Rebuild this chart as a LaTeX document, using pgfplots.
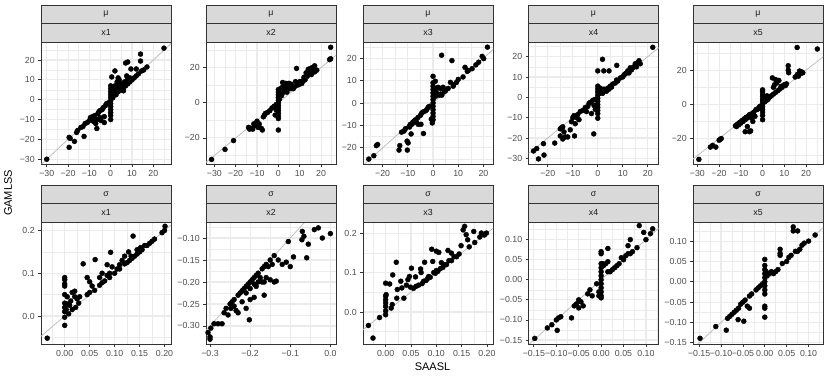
\documentclass[border=0pt]{standalone}
\usepackage{fontspec}
\setmainfont{Liberation Sans}
\usepackage{pgfplots}
\pgfplotsset{compat=1.18}

\definecolor{gridc}{HTML}{EBEBEB}
\definecolor{gray20}{HTML}{333333}
\definecolor{gray30}{HTML}{4D4D4D}
\definecolor{gray85}{HTML}{D9D9D9}
\definecolor{gray10}{HTML}{1A1A1A}
\definecolor{abl}{HTML}{BEBEBE}

\pgfplotsset{
  facet/.style={
    scale only axis, width=130pt, height=122pt,
    anchor=south west,
    axis line style={draw=gray20, line width=0.9pt},
    tick align=outside, tick pos=left,
    major tick length=2.75pt, minor tick length=0pt,
    tick style={gray20, line width=0.8pt},
    grid=both,
    major grid style={gridc, line width=1.1pt},
    minor grid style={gridc, line width=0.55pt},
    ticklabel style={font=\fontsize{8.8}{10}\selectfont, text=gray30},
    scaled ticks=false,
  },
  pts/.style={only marks, mark=*, mark size=2.5pt, mark options={draw=black, fill=black}},
  idl/.style={abl, line width=0.8pt, no marks},
}

\begin{document}
\begin{tikzpicture}
\path[use as bounding box] (0,0) rectangle (830pt,378pt);

% ---------- top row: mu ----------
\begin{axis}[facet, at={(41pt,214pt)},
  xmin=-32.7, xmax=28.3, ymin=-32.4, ymax=29.1,
  xtick={-30,-20,-10,0,10,20}, xticklabels={−30,−20,−10,0,10,20},
  ytick={-30,-20,-10,0,10,20}, yticklabels={−30,−20,−10,0,10,20},
  minor xtick={-25,-15,-5,5,15,25}, minor ytick={-25,-15,-5,5,15,25}]
\addplot[idl] coordinates {(-40,-40) (40,40)};
\addplot[pts] table {
x y
-30 -30
-19.5 -19
-19 -19.5
-19.5 -24
-17 -21
-16 -16.5
-15.5 -15.5
-14 -14
-13 -13.5
-12.5 -18.5
-12 -12
-11 -11.5
-10 -10.5
-9.5 -9
-9 -10
-8.5 -8.5
-8 -11
-8 -9.5
-7.5 -8
-7 -10
-7 -12
-6.5 -14.5
-6 -7
-6 -10
-5.5 -6
-5 -9
-5 -5.5
-4.5 -10.5
-4 -5
-3.5 -4
-3 -11.5
-3 -8.5
-2.5 -3
-2 -2
-1 -1.5
0 -10
0 -8
0 -6.5
0 -5
0 -3.5
0 -2
0 -0.5
0 1
0 2.5
0 4
0 5.5
0 7
0.5 11.5
0.5 3
1 6
1 1
1.5 3
2 14.5
2 5
2 7
2.5 2.5
3 6
3 9
3.5 11
3.5 4
4 10
4 7.5
4.5 5
5 5
5 8
5.5 7
6 6
6 4.5
6.5 9
7 7
7 18.5
8 19
7.5 12
8 8
8 10.5
9 9
9 11
9.5 15.5
10 10
11 11
12 15.5
12 12
13 13
14 23
14 19.5
14.5 14.5
15.5 15
17 16.5
25 26
};
\end{axis}

\begin{axis}[facet, at={(206pt,214pt)},
  xmin=-33.9, xmax=27.0, ymin=-34.8, ymax=34.5,
  xtick={-30,-20,-10,0,10,20}, xticklabels={−30,−20,−10,0,10,20},
  ytick={-20,0,20}, yticklabels={−20,0,20},
  minor xtick={-25,-15,-5,5,15,25}, minor ytick={-30,-10,10,30}]
\addplot[idl] coordinates {(-40,-40) (40,40)};
\addplot[pts] table {
x y
-31.3 -32.2
-25 -26.5
-21 -21.5
-14 -14
-13.5 -15
-13 -14.5
-12 -15
-11.5 -12
-11 -13
-10 -10.5
-9.5 -14
-9 -12
-8 -14.5
-7.5 -15.5
-7 -8
-6.5 -7
-6 -6
-5 -5.5
-4 -4.5
-3 -3
-2 -2
-1.5 -7
-1 -4
-1 -1
0 -15.5
0 -9
0 -7.5
0 -6
0 -4.5
0 -3
0 -1.5
0 0
0 1.5
0 3
0 4.5
0 6
0 7.5
0.5 2
1 5
1 8
1.5 4
2 11.5
2 9
2.5 6
3 10
3 7.5
3.5 11
4 6
4.5 9
5 10
5 11
5.5 8
6 9
6 10.5
7 8
7.5 9
8.5 19.5
8 12
9 10
10 10.5
10 12
11 11
11.5 12.5
12 14.5
12.5 13
13 17
13.5 15
14 19
14 16
15 19.5
15 17
15.5 16
16 20
16 18
17 21
17 17.5
18 18.5
24 24.5
24.5 25
24.5 31.5
};
\end{axis}

\begin{axis}[facet, at={(363pt,214pt)},
  xmin=-27.8, xmax=23.8, ymin=-27.2, ymax=27.2,
  xtick={-20,-10,0,10,20}, xticklabels={−20,−10,0,10,20},
  ytick={-20,-10,0,10,20}, yticklabels={−20,−10,0,10,20},
  minor xtick={-25,-15,-5,5,15}, minor ytick={-25,-15,-5,5,15,25}]
\addplot[idl] coordinates {(-40,-40) (40,40)};
\addplot[pts] table {
x y
-25.5 -25
-23.5 -23.5
-22.5 -19
-22 -18.5
-13.5 -21
-13.2 -19
-12.5 -13
-11.5 -12.5
-11 -11.5
-10.2 -21
-10.3 -17
-9.9 -17.8
-9.5 -10.5
-9.3 -10.7
-9 -9.5
-8.7 -13.8
-8.3 -9.4
-8 -8.5
-7.5 -8
-7 -7.5
-6.5 -8.6
-6 -6.5
-5.9 -9.5
-5 -5.5
-4.8 -9.5
-4.5 -4.5
-4 -4
-3.8 -13.6
-3 -3.5
-2.5 -3
-2 -2
-1.5 -1.5
-0.7 -7.2
-0.3 -8.9
0 -7.5
0 -6
0 -4.5
0 -3
0 -1.5
0 0
0 1.5
0 3
0 4.5
0 6
0 7.5
0 9
0 11.9
0.5 6.5
0.9 9.7
1 5
1 3
1.5 6.5
2 4
2 7
2.5 3.5
3 4
3 6.5
3.4 21.3
3.5 3.5
4 7
4.5 5
5 5.5
6 6.5
6.9 9.2
7.5 18.9
8 7.5
8.2 8.2
9.3 9.2
10 10.5
11.9 11.6
12.7 15.9
13.6 14.1
14 14.5
15.5 15.3
17 17
18.1 18.2
19.5 20.8
20.1 19.8
21.6 24.9
};
\end{axis}

\begin{axis}[facet, at={(528.5pt,214pt)},
  xmin=-27.7, xmax=24.3, ymin=-32.8, ymax=27.2,
  xtick={-20,-10,0,10,20}, xticklabels={−20,−10,0,10,20},
  ytick={-30,-20,-10,0,10,20}, yticklabels={−30,−20,−10,0,10,20},
  minor xtick={-25,-15,-5,5,15}, minor ytick={-25,-15,-5,5,15,25}]
\addplot[idl] coordinates {(-40,-40) (40,40)};
\addplot[pts] table {
x y
-25.7 -26.4
-24.4 -25.2
-23.7 -30.3
-21.5 -28.4
-21.7 -22.8
-17.2 -22.5
-15 -15.5
-14.5 -15
-14 -14.5
-15 -19
-14 -20.5
-13 -19.5
-12 -19.5
-13.5 -17
-11 -16
-10.5 -12
-10 -10
-9.5 -9
-9.3 -19
-9 -13
-8.5 -10
-8 -8.5
-7.5 -11
-7 -7
-6 -6.5
-5 -5
-4.5 -7
-4 -4.5
-3.5 -3
-3 -2.5
-2.5 -8
-2 -1.5
-1.6 -18
-1.5 -4
-1 -6
-1 -1
0 -10.3
0 -8
0 -6.5
0 -5
0 -3.5
0 -2
0 -0.5
0 1
0 2.5
0 4
0 5.5
0 13
1.9 18.7
2.4 13
4.5 13
7.6 15.7
0.5 3
1 2
1 4.5
1.5 3
2 2
2.5 4
3 3.5
3.5 3
4 4.5
4.5 4
5 5.5
5.5 5
6 6.5
7 7
7.5 8.5
8 8
9 9.5
10 10
10.5 11
11 11.5
11.5 12
12 13
12.5 12
13 14.5
13.5 13.5
14 14.5
14.5 15
15 16.5
15.5 15
16 17
16.5 18
17 16.5
22 24.6
};
\end{axis}

\begin{axis}[facet, at={(693pt,214pt)},
  xmin=-32, xmax=27.8, ymin=-34.9, ymax=36.5,
  xtick={-30,-20,-10,0,10,20}, xticklabels={−30,−20,−10,0,10,20},
  ytick={-20,0,20}, yticklabels={−20,0,20},
  minor xtick={-25,-15,-5,5,15,25}, minor ytick={-30,-10,10,30}]
\addplot[idl] coordinates {(-40,-40) (40,40)};
\addplot[pts] table {
x y
-29.3 -32.2
-24 -25
-23 -24
-21.5 -25
-20 -21
-19.5 -20.5
-19 -20
-12.5 -12.5
-12 -13
-11.5 -11.5
-11 -12
-10.5 -10.5
-10 -11
-9.5 -9.5
-9 -10
-8 -16
-8.5 -8.5
-8 -9
-7.5 -7.5
-7 -13
-7 -8
-6.5 -7
-6 -16
-6 -6
-5.5 -15.5
-5 -5.5
-5 -8
-4.5 -10
-4 -4.5
-3.5 -7
-3 -3
-2.5 -3
-2 -2.5
-1.5 -1.5
-1 -1
0 -9
0 -6.5
0 -4.5
0 -3
0 -1.5
0 0
0 1.5
0 3
0 4.5
0 6
0 7.5
0 8.5
0.5 2
1 1.5
1 4
1.5 2.5
2 2.5
2 5
2.5 3
3 4
3.5 4.5
4 5
4.5 15.5
5 6
5 10
5.5 11.5
6 7
6 14.5
6.5 12.5
7 8
7.5 14
8 9
8.5 10.5
9 10
9.5 11
10 11.5
10.5 11
11 12
11.8 22.6
12 18.5
11.8 20
15 16
16 17.5
16.5 16.5
17 19.5
17.5 18
18 19
18.5 18.5
15.9 33.3
25.2 32.4
};
\end{axis}

% ---------- bottom row: sigma ----------
\begin{axis}[facet, at={(41pt,34pt)},
  xmin=-0.0475, xmax=0.213, ymin=-0.0656, ymax=0.220,
  xtick={0,0.05,0.1,0.15,0.2}, xticklabels={0.00,0.05,0.10,0.15,0.20},
  ytick={0,0.1,0.2}, yticklabels={0.0,0.1,0.2},
  minor xtick={-0.025,0.025,0.075,0.125,0.175}, minor ytick={-0.05,0.05,0.15}]
\addplot[idl] coordinates {(-1,-1) (1,1)};
\addplot[pts] table {
x y
-0.035 -0.052
0 -0.022
0 -0.003
0 0.01
0 0.02
0 0.03
0 0.05
0 0.07
0 0.075
0 0.085
0 0.09
0.003 0.015
0.005 0.045
0.005 0.028
0.008 0.005
0.01 0.025
0.012 0.035
0.015 0.055
0.015 0.015
0.02 0.058
0.02 0.045
0.022 0.02
0.025 0.04
0.028 0.03
0.03 0.045
0.037 0.122
0.045 0.05
0.045 0.09
0.05 0.08
0.05 0.055
0.055 0.07
0.06 0.06
0.061 0.132
0.07 0.09
0.07 0.072
0.075 0.1
0.075 0.078
0.08 0.082
0.085 0.12
0.085 0.095
0.09 0.1
0.092 0.149
0.09 0.09
0.095 0.115
0.1 0.1
0.105 0.11
0.11 0.12
0.11 0.11
0.115 0.13
0.12 0.122
0.12 0.14
0.125 0.125
0.128 0.15
0.13 0.13
0.133 0.14
0.135 0.135
0.14 0.14
0.137 0.187
0.145 0.155
0.145 0.145
0.15 0.15
0.152 0.16
0.155 0.155
0.16 0.165
0.165 0.165
0.17 0.17
0.175 0.175
0.18 0.18
0.195 0.195
0.2 0.2
0.201 0.21
};
\end{axis}

\begin{axis}[facet, at={(206pt,34pt)},
  xmin=-0.310, xmax=0.014, ymin=-0.341, ymax=-0.0636,
  xtick={-0.3,-0.2,-0.1,0}, xticklabels={−0.3,−0.2,−0.1,0.0},
  ytick={-0.3,-0.25,-0.2,-0.15,-0.1}, yticklabels={−0.30,−0.25,−0.20,−0.15,−0.10},
  minor xtick={-0.25,-0.15,-0.05}, minor ytick={-0.325,-0.275,-0.225,-0.175,-0.125,-0.075}]
\addplot[idl] coordinates {(-1,-1) (1,1)};
\addplot[pts] table {
x y
-0.305 -0.315
-0.3 -0.325
-0.3 -0.33
-0.298 -0.305
-0.29 -0.295
-0.28 -0.295
-0.27 -0.295
-0.265 -0.27
-0.26 -0.26
-0.255 -0.275
-0.25 -0.25
-0.248 -0.26
-0.245 -0.245
-0.24 -0.255
-0.235 -0.265
-0.24 -0.24
-0.23 -0.27
-0.23 -0.23
-0.225 -0.225
-0.22 -0.22
-0.215 -0.215
-0.22 -0.245
-0.21 -0.225
-0.21 -0.21
-0.205 -0.205
-0.2 -0.2
-0.202 -0.286
-0.21 -0.26
-0.2 -0.24
-0.2 -0.215
-0.195 -0.195
-0.19 -0.19
-0.19 -0.235
-0.19 -0.205
-0.185 -0.21
-0.185 -0.185
-0.18 -0.18
-0.18 -0.2
-0.165 -0.23
-0.175 -0.19
-0.17 -0.17
-0.17 -0.2
-0.165 -0.2
-0.165 -0.165
-0.16 -0.16
-0.16 -0.19
-0.155 -0.165
-0.15 -0.15
-0.15 -0.195
-0.145 -0.16
-0.14 -0.14
-0.14 -0.2
-0.135 -0.198
-0.13 -0.15
-0.12 -0.16
-0.11 -0.155
-0.105 -0.108
-0.1 -0.165
-0.092 -0.143
-0.07 -0.085
-0.071 -0.104
-0.066 -0.096
-0.059 -0.145
-0.055 -0.114
-0.04 -0.081
-0.03 -0.077
-0.02 -0.1
0 -0.09
};
\end{axis}

\begin{axis}[facet, at={(363pt,34pt)},
  xmin=-0.0447, xmax=0.212, ymin=-0.081, ymax=0.228,
  xtick={0,0.05,0.1,0.15,0.2}, xticklabels={0.00,0.05,0.10,0.15,0.20},
  ytick={0,0.1,0.2}, yticklabels={0.0,0.1,0.2},
  minor xtick={-0.025,0.025,0.075,0.125,0.175}, minor ytick={-0.05,0.05,0.15}]
\addplot[idl] coordinates {(-1,-1) (1,1)};
\addplot[pts] table {
x y
-0.034 -0.034
-0.025 -0.066
-0.012 -0.014
0 -0.007
0 0.003
0 0.014
0 0.023
0 0.031
0 0.04
0.001 0.044
0 0.073
0.008 0.071
0.014 0.094
0.021 0.126
0.013 0.019
0.011 0.01
0.023 0.057
0.022 0.035
0.03 0.078
0.032 0.061
0.036 0.035
0.041 0.068
0.044 0.082
0.047 0.09
0.051 0.111
0.049 0.063
0.055 0.06
0.06 0.065
0.059 0.089
0.065 0.068
0.07 0.1
0.069 0.109
0.072 0.072
0.075 0.078
0.077 0.126
0.08 0.08
0.083 0.085
0.085 0.09
0.088 0.088
0.091 0.159
0.093 0.128
0.095 0.1
0.098 0.098
0.1 0.154
0.1 0.105
0.103 0.103
0.105 0.151
0.108 0.11
0.11 0.125
0.113 0.113
0.115 0.12
0.12 0.12
0.123 0.156
0.125 0.13
0.13 0.149
0.13 0.13
0.135 0.14
0.14 0.14
0.145 0.147
0.149 0.168
0.153 0.208
0.156 0.217
0.159 0.196
0.162 0.183
0.165 0.165
0.174 0.204
0.176 0.176
0.186 0.19
0.189 0.2
0.195 0.195
0.199 0.2
};
\end{axis}

\begin{axis}[facet, at={(528.5pt,34pt)},
  xmin=-0.162, xmax=0.128, ymin=-0.160, ymax=0.144,
  xtick={-0.15,-0.1,-0.05,0,0.05,0.1}, xticklabels={−0.15,−0.10,−0.05,0.00,0.05,0.10},
  ytick={-0.15,-0.1,-0.05,0,0.05,0.1}, yticklabels={−0.15,−0.10,−0.05,0.00,0.05,0.10},
  minor xtick={-0.125,-0.075,-0.025,0.025,0.075,0.125}, minor ytick={-0.125,-0.075,-0.025,0.025,0.075,0.125}]
\addplot[idl] coordinates {(-1,-1) (1,1)};
\addplot[pts] table {
x y
-0.148 -0.146
-0.12 -0.12
-0.11 -0.112
-0.1 -0.1
-0.095 -0.095
-0.098 -0.126
-0.09 -0.092
-0.066 -0.095
-0.06 -0.065
-0.055 -0.06
-0.05 -0.05
-0.05 -0.07
-0.045 -0.055
-0.04 -0.065
-0.03 -0.035
-0.025 -0.025
-0.02 -0.04
-0.01 -0.01
-0.005 -0.04
-0.005 -0.03
0 -0.045
0 -0.04
0 -0.03
0 -0.02
0 -0.01
0 0
0 0.01
0 0.02
0 0.03
0 0.04
0 0.065
0 0.07
0.003 0.04
0.005 0.035
0.01 0.04
0.015 0.078
0.015 0.045
0.015 0.02
0.02 0.02
0.025 0.025
0.03 0.03
0.035 0.035
0.04 0.04
0.045 0.055
0.05 0.05
0.055 0.06
0.06 0.085
0.06 0.065
0.065 0.1
0.065 0.065
0.07 0.07
0.08 0.08
0.085 0.135
0.095 0.118
0.1 0.1
0.11 0.115
0.115 0.127
};
\end{axis}

\begin{axis}[facet, at={(693pt,34pt)},
  xmin=-0.164, xmax=0.133, ymin=-0.153, ymax=0.147,
  xtick={-0.15,-0.1,-0.05,0,0.05,0.1}, xticklabels={−0.15,−0.10,−0.05,0.00,0.05,0.10},
  ytick={-0.15,-0.1,-0.05,0,0.05,0.1}, yticklabels={−0.15,−0.10,−0.05,0.00,0.05,0.10},
  minor xtick={-0.125,-0.075,-0.025,0.025,0.075,0.125}, minor ytick={-0.125,-0.075,-0.025,0.025,0.075,0.125}]
\addplot[idl] coordinates {(-1,-1) (1,1)};
\addplot[pts] table {
x y
-0.148 -0.139
-0.112 -0.11
-0.088 -0.119
-0.085 -0.09
-0.08 -0.085
-0.075 -0.08
-0.07 -0.075
-0.065 -0.07
-0.06 -0.065
-0.061 -0.093
-0.048 -0.097
-0.055 -0.055
-0.05 -0.05
-0.045 -0.045
-0.04 -0.06
-0.035 -0.065
-0.035 -0.035
-0.03 -0.03
-0.02 -0.02
-0.015 -0.015
-0.01 -0.01
-0.005 -0.005
0 -0.087
0 -0.065
0 -0.06
0 -0.03
0 -0.02
0 -0.01
0 0
0 0.01
0 0.02
0 0.03
0 0.04
0 0.055
0.003 0.025
0.005 0.015
0.01 0.02
0.015 0.025
0.02 0.02
0.025 0.025
0.03 0.03
0.035 0.08
0.035 0.07
0.035 0.065
0.04 0.045
0.05 0.05
0.055 0.06
0.06 0.065
0.065 0.135
0.065 0.125
0.07 0.075
0.075 0.125
0.075 0.075
0.08 0.08
0.085 0.09
0.09 0.095
0.1 0.1
0.115 0.115
};
\end{axis}

% ---------- strips ----------
\foreach \x in {41,206,363,528.5,693} {
  \draw[gray20, fill=gray85, line width=0.9pt] (\x pt,354.5pt) rectangle ++(130pt,18.5pt);
  \draw[gray20, fill=gray85, line width=0.9pt] (\x pt,336pt) rectangle ++(130pt,18.5pt);
  \draw[gray20, fill=gray85, line width=0.9pt] (\x pt,174.5pt) rectangle ++(130pt,18.5pt);
  \draw[gray20, fill=gray85, line width=0.9pt] (\x pt,156pt) rectangle ++(130pt,18.5pt);
  \node[text=gray10, font=\fontsize{8.8}{10}\selectfont] at ([xshift=65pt]\x pt,363.75pt) {μ};
  \node[text=gray10, font=\fontsize{8.8}{10}\selectfont] at ([xshift=65pt]\x pt,183.75pt) {σ};
}
\foreach \x/\l in {41/x1,206/x2,363/x3,528.5/x4,693/x5} {
  \node[text=gray10, font=\fontsize{8.8}{10}\selectfont] at ([xshift=65pt]\x pt,345.25pt) {\l};
  \node[text=gray10, font=\fontsize{8.8}{10}\selectfont] at ([xshift=65pt]\x pt,165.25pt) {\l};
}

% ---------- axis titles ----------
\node[font=\fontsize{11}{13}\selectfont] at (432.5pt,11pt) {SAASL};
\node[font=\fontsize{11}{13}\selectfont, rotate=90] at (8pt,185pt) {GAMLSS};
\end{tikzpicture}
\end{document}
